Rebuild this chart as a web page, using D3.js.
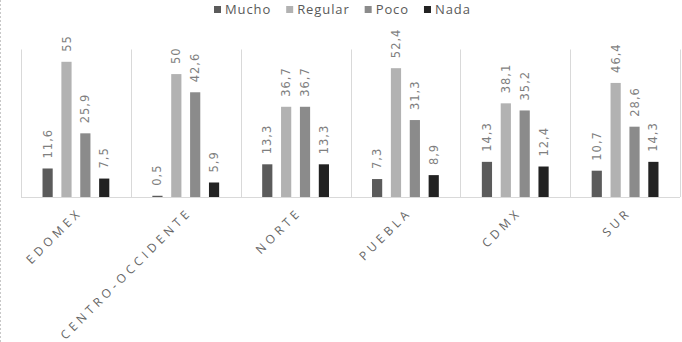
<!DOCTYPE html>
<html>
<head>
<meta charset="utf-8">
<script src="https://cdn.jsdelivr.net/npm/d3@7"></script>
<style>
  body { margin: 0; background: #fff; }
  svg { display: block; }
</style>
</head>
<body>
<div id="parentdiv" style="width:682px;height:342px;"><svg id="chart"></svg></div>
<script>
const width = 682;
const height = 342;

var regiones = ["EDOMEX", "CENTRO-OCCIDENTE", "NORTE", "PUEBLA", "CDMX", "SUR"];
var series = ["Mucho", "Regular", "Poco", "Nada"];
var mucho   = [11.6, 0.5, 13.3, 7.3, 14.3, 10.7];
var regular = [55, 50, 36.7, 52.4, 38.1, 46.4];
var poco    = [25.9, 42.6, 36.7, 31.3, 35.2, 28.6];
var nada    = [7.5, 5.9, 13.3, 8.9, 12.4, 14.3];
var colores = ["#5b5b5b", "#b2b2b2", "#8b8b8b", "#222222"];

var valores = [mucho, regular, poco, nada];
var rows = [];
regiones.forEach(function (r, i) {
    series.forEach(function (s, j) {
        rows.push({ region: r, serie: s, value: valores[j][i] });
    });
});

var svg = d3.select("#chart")
    .attr("width", width)
    .attr("height", height);

// borde izquierdo punteado
svg.append("line")
    .attr("x1", 0.5).attr("x2", 0.5)
    .attr("y1", 0).attr("y2", height)
    .attr("stroke", "#c8c8c8")
    .attr("stroke-dasharray", "2,2");

var x0 = d3.scaleBand().domain(regiones).range([21, 680]).padding(0);
var x1 = d3.scaleBand().domain(series).range([0, x0.bandwidth()])
    .paddingInner(0.46).paddingOuter(1.14);
var y = d3.scaleLinear().domain([0, 60]).range([197, 49.5]);
var color = d3.scaleOrdinal().domain(series).range(colores);

// separadores verticales
var seps = regiones.map(function (r) { return x0(r); }).concat([x0.range()[1]]);
svg.selectAll(".sep")
    .data(seps)
    .enter()
    .append("line")
    .attr("class", "sep")
    .attr("x1", function (d) { return Math.round(d) + 0.5; })
    .attr("x2", function (d) { return Math.round(d) + 0.5; })
    .attr("y1", y(60))
    .attr("y2", y(0))
    .attr("stroke", "#d9d9d9");

// barras
svg.selectAll(".bar")
    .data(rows)
    .enter()
    .append("rect")
    .attr("class", "bar")
    .attr("x", function (d) { return x0(d.region) + x1(d.serie); })
    .attr("width", x1.bandwidth())
    .attr("y", function (d) { return y(d.value); })
    .attr("height", function (d) { return y(0) - y(d.value); })
    .attr("fill", function (d) { return color(d.serie); });

// linea base
svg.append("line")
    .attr("x1", x0.range()[0]).attr("x2", x0.range()[1])
    .attr("y1", y(0) + 0.5).attr("y2", y(0) + 0.5)
    .attr("stroke", "#d9d9d9");

// etiquetas de datos
var fmt = function (v) { return String(v).replace(".", ","); };
svg.selectAll(".lbl")
    .data(rows)
    .enter()
    .append("text")
    .attr("class", "lbl")
    .attr("transform", function (d) {
        var cx = x0(d.region) + x1(d.serie) + x1.bandwidth() / 2;
        return "translate(" + cx + "," + (y(d.value) - 10) + ") rotate(-90)";
    })
    .attr("dy", "0.35em")
    .attr("font-family", "DejaVu Sans")
    .attr("font-size", 11.5)
    .attr("letter-spacing", "1px")
    .attr("fill", "#7f7f7f")
    .text(function (d) { return fmt(d.value); });

// etiquetas de categoria
svg.selectAll(".cat")
    .data(regiones)
    .enter()
    .append("text")
    .attr("class", "cat")
    .attr("transform", function (d) {
        return "translate(" + (x0(d) + x0.bandwidth() / 2 + 7) + ",213) rotate(-45)";
    })
    .attr("text-anchor", "end")
    .attr("font-family", "Open Sans")
    .attr("font-size", 12)
    .attr("letter-spacing", "4px")
    .attr("fill", "#666666")
    .text(function (d) { return d; });

// leyenda
var legend = svg.append("g").attr("class", "legend");
var lx = 214;
series.forEach(function (s) {
    var g = legend.append("g").attr("transform", "translate(" + lx + ",0)");
    g.append("rect")
        .attr("x", 0).attr("y", 6)
        .attr("width", 7).attr("height", 7)
        .attr("fill", color(s));
    var t = g.append("text")
        .attr("x", 11).attr("y", 14)
        .attr("font-family", "Open Sans")
        .attr("font-size", 13)
        .attr("letter-spacing", "0.9px")
        .attr("fill", "#595959")
        .text(s);
    lx += 11 + t.node().getComputedTextLength() + 15;
});
</script>
</body>
</html>
